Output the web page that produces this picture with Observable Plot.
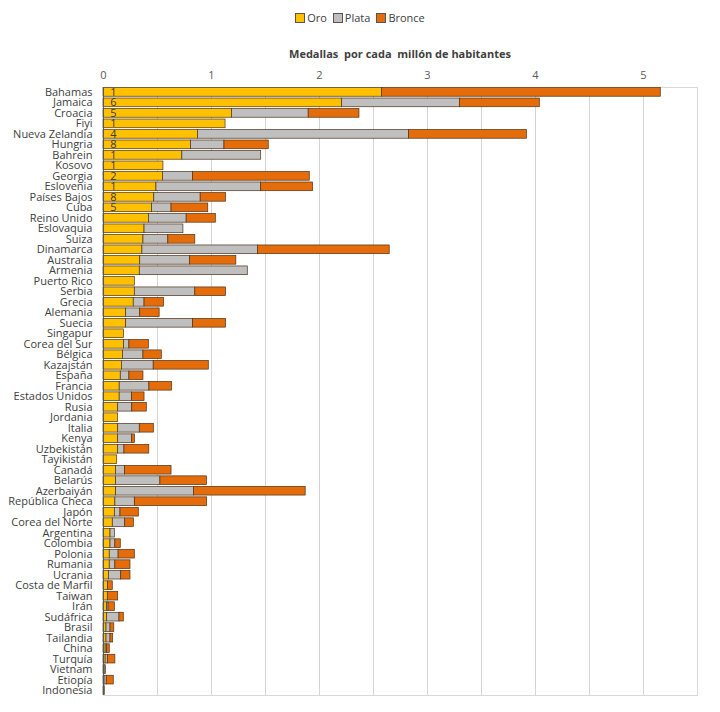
<!DOCTYPE html>
<html>
<head>
<meta charset="utf-8">
<script src="https://cdn.jsdelivr.net/npm/d3@7"></script>
<script src="https://cdn.jsdelivr.net/npm/@observablehq/plot@0.6"></script>
<style>
  html, body { margin: 0; padding: 0; background: #fff; }
  body { width: 720px; height: 712px; overflow: hidden; font-family: "Open Sans", "Liberation Sans", sans-serif; }
  #header { position: relative; height: 64px; }
  #legend { position: absolute; top: 10px; left: 0; width: 720px; text-align: center; font-size: 11px; color: #404040; }
  #legend span.item { margin: 0 3px; }
  #legend span.sw { display: inline-block; width: 8px; height: 8px; border: 1px solid #555; vertical-align: -1px; margin-right: 2px; }
  #title { position: absolute; top: 46px; left: 80px; width: 640px; text-align: center; font-size: 11px; font-weight: bold; color: #404040; }
  #chart svg { display: block; }
</style>
</head>
<body>
<div id="header">
  <div id="legend"></div>
  <div id="title">Medallas&nbsp; por cada&nbsp; millón de habitantes</div>
</div>
<div id="chart"></div>
<script>
const countries = ["Bahamas","Jamaica","Croacia","Fiyi","Nueva Zelandia","Hungria","Bahrein","Kosovo","Georgia","Eslovenia","Países Bajos","Cuba","Reino Unido","Eslovaquia","Suiza","Dinamarca","Australia","Armenia","Puerto Rico","Serbia","Grecia","Alemania","Suecia","Singapur","Corea del Sur","Bélgica","Kazajstán","España","Francia","Estados Unidos","Rusia","Jordania","Italia","Kenya","Uzbekistán","Tayikistán","Canadá","Belarús","Azerbaiyán","República Checa","Japón","Corea del Norte","Argentina","Colombia","Polonia","Rumania","Ucrania","Costa de Marfil","Taiwan","Irán","Sudáfrica","Brasil","Tailandia","China","Turquía","Vietnam","Etiopía","Indonesia"];
const oro = [2.58,2.21,1.19,1.13,0.875,0.81,0.73,0.555,0.55,0.49,0.47,0.45,0.42,0.38,0.37,0.36,0.34,0.336,0.29,0.29,0.28,0.21,0.21,0.19,0.19,0.18,0.17,0.16,0.15,0.15,0.136,0.136,0.136,0.136,0.136,0.127,0.117,0.117,0.117,0.11,0.105,0.086,0.065,0.065,0.058,0.058,0.05,0.043,0.04,0.034,0.034,0.028,0.028,0.02,0.02,0.011,0.01,0.004];
const plata = [0,1.09,0.71,0,1.955,0.31,0.73,0,0.28,0.97,0.43,0.18,0.35,0.36,0.23,1.07,0.46,1.0,0,0.56,0.10,0.13,0.62,0,0.05,0.19,0.295,0.08,0.275,0.115,0.13,0,0.20,0.13,0.058,0,0.083,0.41,0.72,0.18,0.052,0.115,0.04,0.045,0.082,0.052,0.114,0,0,0.013,0.114,0.037,0.037,0.013,0.02,0.011,0.02,0.008];
const bronce = [2.58,0.74,0.47,0,1.09,0.41,0,0,1.08,0.48,0.235,0.34,0.27,0,0.25,1.22,0.43,0,0,0.285,0.18,0.18,0.305,0,0.18,0.17,0.51,0.13,0.21,0.115,0.135,0,0.13,0.025,0.23,0,0.43,0.43,1.035,0.67,0.17,0.08,0,0.05,0.15,0.14,0.086,0.043,0.096,0.058,0.04,0.035,0.025,0.025,0.07,0,0.065,0];
const oroCount = ["1","6","5","1","4","8","1","1","2","1","8","5"];
const series = ["Oro","Plata","Bronce"];
const colors = ["#FFC000","#BFBFBF","#E46C0A"];
const xTicks = [0,1,2,3,4,5];
const xGrid = [0.5,1,1.5,2,2.5,3,3.5,4,4.5,5,5.5];

// legend
const lg = document.getElementById("legend");
series.forEach((s, i) => {
  const it = document.createElement("span");
  it.className = "item";
  it.innerHTML = `<span class="sw" style="background:${colors[i]}"></span>${s}`;
  lg.appendChild(it);
});

const vals = [oro, plata, bronce];
const data = countries.flatMap((c, i) => series.map((s, k) => ({country: c, serie: s, value: vals[k][i]})));
const labels = oroCount.map((t, i) => ({country: countries[i], label: t}));

const chart = Plot.plot({
  width: 720,
  height: 648,
  marginTop: 23,
  marginBottom: 17,
  marginLeft: 103,
  marginRight: 23,
  style: {fontFamily: "'Open Sans', 'Liberation Sans', sans-serif", fontSize: "11px", color: "#404040", background: "#fff"},
  x: {domain: [0, 5.5]},
  y: {domain: countries, paddingInner: 0.17, paddingOuter: 0.05, align: 0.5, round: false},
  color: {domain: series, range: colors},
  marks: [
    Plot.ruleX(xGrid, {stroke: "#d4d4d4", strokeWidth: 1}),
    Plot.frame({stroke: "#d9d9d9"}),
    Plot.barX(data, {y: "country", x: "value", fill: "serie", stroke: "#4d3319", strokeWidth: 0.7, order: series}),
    Plot.ruleX([0], {stroke: "#555", strokeWidth: 1}),
    Plot.text(labels, {y: "country", x: 0, dx: 10, text: "label", fill: "#3a3a3a", fontSize: 11, textAnchor: "middle"}),
    Plot.axisX(xTicks, {anchor: "top", tickSize: 0, tickPadding: 9, label: null, tickFormat: d => String(d), fill: "#595959", fontSize: 11}),
    Plot.axisY({tickSize: 0, tickPadding: 11, label: null, fill: "#404040", fontSize: 11})
  ]
});
document.getElementById("chart").appendChild(chart);
</script>
</body>
</html>
